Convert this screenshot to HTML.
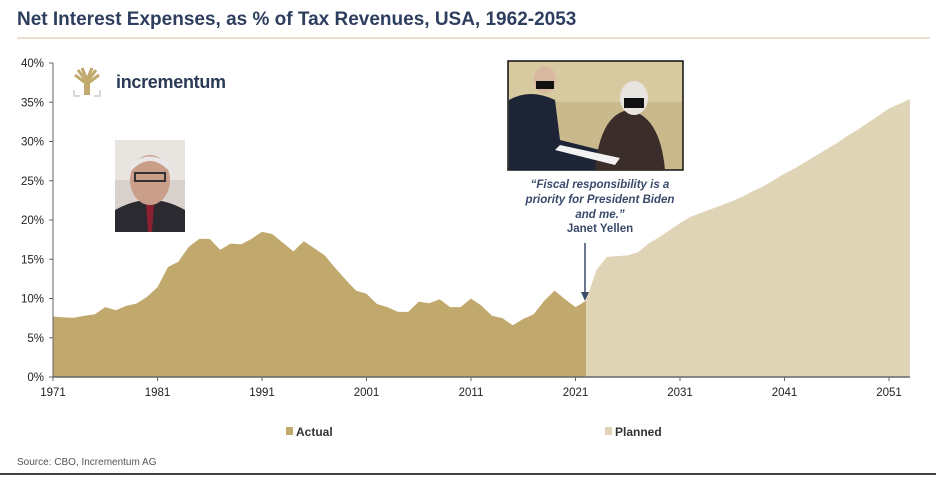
<!DOCTYPE html>
<html><head><meta charset="utf-8">
<style>
body{margin:0;background:#fff;width:936px;height:476px;overflow:hidden;font-family:"Liberation Sans",Arial,sans-serif}
</style></head>
<body>
<svg id="chart" width="936" height="476" xmlns="http://www.w3.org/2000/svg" font-family="Liberation Sans, Arial, sans-serif">
<text x="17" y="25" font-size="19" font-weight="bold" fill="#2d3e5e">Net Interest Expenses, as % of Tax Revenues, USA, 1962-2053</text>
<line x1="17" y1="38" x2="930" y2="38" stroke="#e3d6bb" stroke-width="1.5"/>
<g id="plot"></g>
<g id="axes"></g>
<g>
<path d="M87 94 L87 80 M87 82 L78 70 M87 82 L96 70 M87 80 L82 68 M87 80 L92 68 M87 84 L75 75 M87 84 L99 75" stroke="#c1a96e" stroke-width="3" fill="none"/>
<rect x="84" y="82" width="6" height="13" fill="#c1a96e"/>
<path d="M74 90 V96 H80 M94 96 H100 V90" stroke="#ccc" stroke-width="1.5" fill="none"/>
<text x="116" y="88" font-size="18" fill="#2b3a55" font-weight="bold" letter-spacing="-0.3">incrementum</text>
</g>
<g>
<rect x="115" y="140" width="70" height="92" fill="#d9d2cc"/>
<rect x="115" y="140" width="70" height="40" fill="#e8e4df"/>
<path d="M115 232 L115 210 Q150 190 185 210 L185 232 Z" fill="#2a2a30"/>
<path d="M146 205 L154 205 L152 232 L148 232 Z" fill="#8a2030"/>
<ellipse cx="150" cy="180" rx="20" ry="25" fill="#c99f8a"/>
<path d="M130 172 Q150 150 170 172 L170 165 Q150 148 130 165 Z" fill="#e8e6e6"/>
<rect x="135" y="173" width="30" height="8" fill="none" stroke="#333" stroke-width="2"/>
</g>
<g>
<rect x="508" y="61" width="175" height="109" fill="#c9b98c" stroke="#111" stroke-width="1.5"/>
<rect x="509" y="62" width="173" height="40" fill="#d8caa0"/>
<path d="M509 170 L509 100 Q530 88 555 100 L560 140 L600 150 L600 170 Z" fill="#1d2436"/>
<ellipse cx="545" cy="80" rx="11" ry="14" fill="#d8b8a0"/>
<rect x="536" y="81" width="18" height="8" fill="#111"/>
<path d="M595 170 Q600 115 628 110 Q660 115 665 170 Z" fill="#3b2e2a"/>
<ellipse cx="634" cy="98" rx="14" ry="17" fill="#e8e4e0"/>
<rect x="624" y="98" width="20" height="10" fill="#111"/>
<path d="M560 145 L620 158 L615 165 L555 150 Z" fill="#f2f2f2"/>
</g>
<g font-size="11.5" font-weight="bold" fill="#3a4a6b" text-anchor="middle">
<text x="600" y="188" font-style="italic">“Fiscal responsibility is a</text>
<text x="600" y="203" font-style="italic">priority for President Biden</text>
<text x="600" y="218" font-style="italic">and me.”</text>
<text x="600" y="232">Janet Yellen</text>
</g>
<g>
<line x1="585" y1="243" x2="585" y2="294" stroke="#3a4a6b" stroke-width="1.5"/>
<path d="M581 292 L589 292 L585 301 Z" fill="#3a4a6b"/>
</g>
<g font-size="12" font-weight="bold" fill="#333">
<rect x="286" y="427" width="7" height="8" fill="#c1a96e"/>
<text x="296" y="436">Actual</text>
<rect x="605" y="427" width="7" height="8" fill="#e0d4b6"/>
<text x="615" y="436">Planned</text>
</g>
<text x="17" y="465" font-size="10" fill="#555">Source: CBO, Incrementum AG</text>
<line x1="0" y1="474" x2="936" y2="474" stroke="#000" stroke-width="1.5"/>
</svg>
<script>
const actualYears = [1971,1972,1973,1974,1975,1976,1977,1978,1979,1980,1981,1982,1983,1984,1985,1986,1987,1988,1989,1990,1991,1992,1993,1994,1995,1996,1997,1998,1999,2000,2001,2002,2003,2004,2005,2006,2007,2008,2009,2010,2011,2012,2013,2014,2015,2016,2017,2018,2019,2020,2021,2022];
const actualValues = [7.7,7.6,7.55,7.8,8.0,8.9,8.5,9.06,9.36,10.2,11.45,14.0,14.7,16.6,17.6,17.6,16.2,17.0,16.9,17.6,18.5,18.2,17.1,16.0,17.3,16.4,15.5,13.9,12.4,11.0,10.6,9.3,8.9,8.3,8.3,9.6,9.4,9.9,8.9,8.9,10.0,9.1,7.8,7.5,6.6,7.4,8.0,9.7,11.0,9.9,8.9,9.7];
const plannedYears = [2022,2023,2024,2025,2026,2027,2028,2029,2030,2031,2032,2033,2034,2035,2036,2037,2038,2039,2040,2041,2042,2043,2044,2045,2046,2047,2048,2049,2050,2051,2052,2053];
const plannedValues = [9.7,13.6,15.3,15.4,15.5,15.9,17.0,17.8,18.7,19.6,20.4,20.9,21.4,21.9,22.4,23.0,23.7,24.3,25.1,25.9,26.6,27.4,28.2,29.0,29.8,30.7,31.5,32.4,33.3,34.2,34.8,35.4];
const yTicks = [0,5,10,15,20,25,30,35,40];
const xTicks = [1971,1981,1991,2001,2011,2021,2031,2041,2051];

const NS="http://www.w3.org/2000/svg";
const x0=53, pxPerYear=10.45, yBase=377, pxPerPct=7.85;
const X=y=>x0+(y-1971)*pxPerYear;
const Y=v=>yBase-v*pxPerPct;
function mk(t,a,p){const e=document.createElementNS(NS,t);for(const k in a)e.setAttribute(k,a[k]);p.appendChild(e);return e;}
const plot=document.getElementById('plot'), axes=document.getElementById('axes');
function area(years,vals,color,name){
  let d=`M${X(years[0])} ${yBase}`;
  years.forEach((yr,i)=>{d+=` L${X(yr)} ${Y(vals[i])}`;});
  d+=` L${X(years[years.length-1])} ${yBase} Z`;
  const p=mk('path',{d:d,fill:color},plot);
  
  
}
area(plannedYears,plannedValues,'#e0d4b6','planned-area');
area(actualYears,actualValues,'#c1a96e','actual-area');
const ya=mk('line',{x1:x0,y1:Y(40),x2:x0,y2:yBase,stroke:'#666','stroke-width':1},axes);


const xa=mk('line',{x1:x0,y1:yBase,x2:910,y2:yBase,stroke:'#666','stroke-width':1.5},axes);


yTicks.forEach(v=>{
  mk('line',{x1:x0-4,y1:Y(v),x2:x0,y2:Y(v),stroke:'#666'},axes);
  const t=mk('text',{x:x0-9,y:Y(v)+4,'text-anchor':'end','font-size':11.5,fill:'#222'},axes);
  t.textContent=v+'%';
  
  
});
xTicks.forEach(yr=>{
  mk('line',{x1:X(yr),y1:yBase,x2:X(yr),y2:yBase+4,stroke:'#666'},axes);
  const t=mk('text',{x:X(yr),y:yBase+19,'text-anchor':'middle','font-size':11.5,fill:'#222'},axes);
  t.textContent=yr;
  
  
});
</script>
</body></html>
